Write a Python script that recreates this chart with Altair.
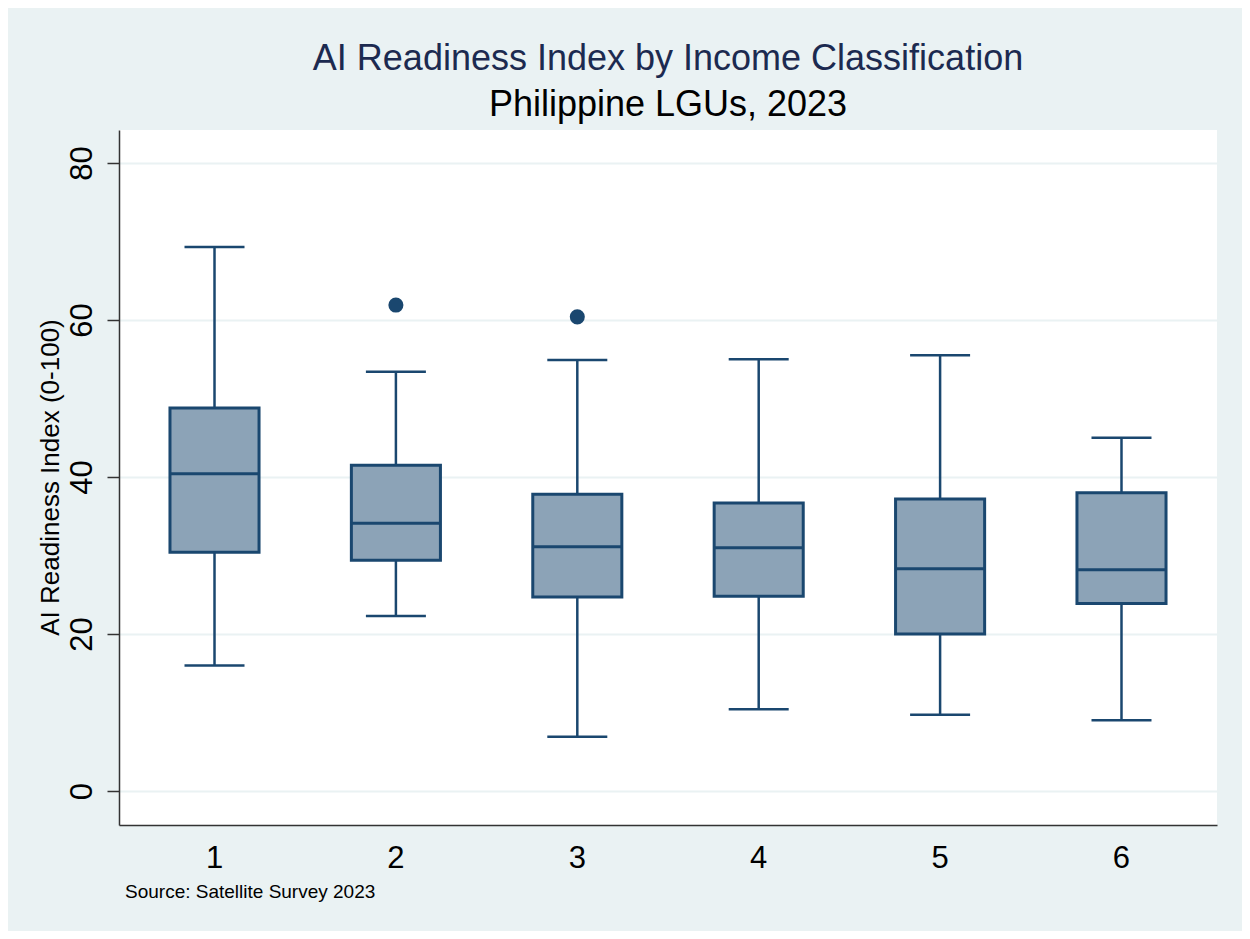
import altair as alt
import pandas as pd

# ---- data ----
income_class = ["1", "2", "3", "4", "5", "6"]
whisker_low = [16.0, 22.3, 6.9, 10.4, 9.7, 9.0]
q1 = [30.4, 29.4, 24.7, 24.8, 20.0, 23.9]
median = [40.4, 34.1, 31.1, 31.0, 28.3, 28.2]
q3 = [48.8, 41.5, 37.8, 36.7, 37.2, 38.0]
whisker_high = [69.3, 53.4, 54.9, 55.0, 55.5, 45.0]

outlier_class = ["2", "3"]
outlier_value = [61.9, 60.4]

y_ticks = [0, 20, 40, 60, 80]

NAVY = "#1A476F"
FILL = "#8CA3B7"
BG = "#EAF2F3"
FONT = "Liberation Sans"

boxes = pd.DataFrame({
    "cls": income_class, "lo": whisker_low, "q1": q1,
    "med": median, "q3": q3, "hi": whisker_high,
})
outs = pd.DataFrame({"cls": outlier_class, "v": outlier_value})

xscale = alt.Scale(domain=income_class, paddingInner=0.509, paddingOuter=0.281)
yscale = alt.Scale(domain=[-4.33, 84.2], nice=False, zero=False)

x_enc = alt.X(
    "cls:N", scale=xscale, title=None,
    axis=alt.Axis(labelAngle=0, ticks=False, labelFontSize=31, labelFont=FONT,
                  labelColor="#000000", labelPadding=18, domainColor="#333333",
                  domainWidth=1.5, grid=False),
)
y_axis = alt.Axis(
    values=y_ticks, title="AI Readiness Index (0-100)", titleFontSize=26,
    titleFont=FONT, titleFontWeight="normal", titleColor="#000000",
    titleAngle=-90, titleX=-69, titleY=347, titleAlign="center",
    titleBaseline="middle",
    labelAngle=-90, labelAlign="center", labelBaseline="alphabetic",
    labelFontSize=31, labelFont=FONT, labelColor="#000000", labelPadding=16,
    tickSize=12, tickColor="#333333", tickWidth=1.5,
    domainColor="#333333", domainWidth=1.5,
    grid=True, gridColor=BG, gridWidth=2,
)

base = alt.Chart(boxes)

lower = base.mark_rule(color=NAVY, strokeWidth=2.5).encode(
    x=x_enc, y=alt.Y("lo:Q", scale=yscale, axis=y_axis), y2="q1:Q")
upper = base.mark_rule(color=NAVY, strokeWidth=2.5).encode(
    x=x_enc, y=alt.Y("q3:Q", scale=yscale), y2="hi:Q")
box = base.mark_bar(fill=FILL, stroke=NAVY, strokeWidth=3, cornerRadius=0).encode(
    x=x_enc, y=alt.Y("q1:Q", scale=yscale), y2="q3:Q")
med = base.mark_tick(color=NAVY, size=89, thickness=3, opacity=1).encode(
    x=x_enc, y=alt.Y("med:Q", scale=yscale))
cap_lo = base.mark_tick(color=NAVY, size=60, thickness=2.5, opacity=1).encode(
    x=x_enc, y=alt.Y("lo:Q", scale=yscale))
cap_hi = base.mark_tick(color=NAVY, size=60, thickness=2.5, opacity=1).encode(
    x=x_enc, y=alt.Y("hi:Q", scale=yscale))
pts = alt.Chart(outs).mark_circle(color=NAVY, size=227, opacity=1).encode(
    x=x_enc, y=alt.Y("v:Q", scale=yscale))
source = alt.Chart(pd.DataFrame({"t": ["Source: Satellite Survey 2023"]})).mark_text(
    align="left", baseline="alphabetic", fontSize=19, font=FONT, color="#000000"
).encode(text="t:N", x=alt.value(6), y=alt.value(768))

chart = alt.layer(lower, upper, box, med, cap_lo, cap_hi, pts, source).properties(
    width=1098, height=695,
    autosize=alt.AutoSizeParams(type="none"),
    padding={"left": 111, "top": 122, "right": 25, "bottom": 106},
    background=BG,
    title=alt.TitleParams(
        text="AI Readiness Index by Income Classification",
        subtitle="Philippine LGUs, 2023",
        font=FONT, fontSize=36, fontWeight="normal", color="#1C2A50",
        subtitleFont=FONT, subtitleFontSize=36, subtitleColor="#000000",
        subtitlePadding=10, anchor="middle", offset=6, frame="group",
    ),
).configure_view(fill="white", stroke=None)

chart.save("out.html", embed_options={"renderer": "svg", "actions": False})
